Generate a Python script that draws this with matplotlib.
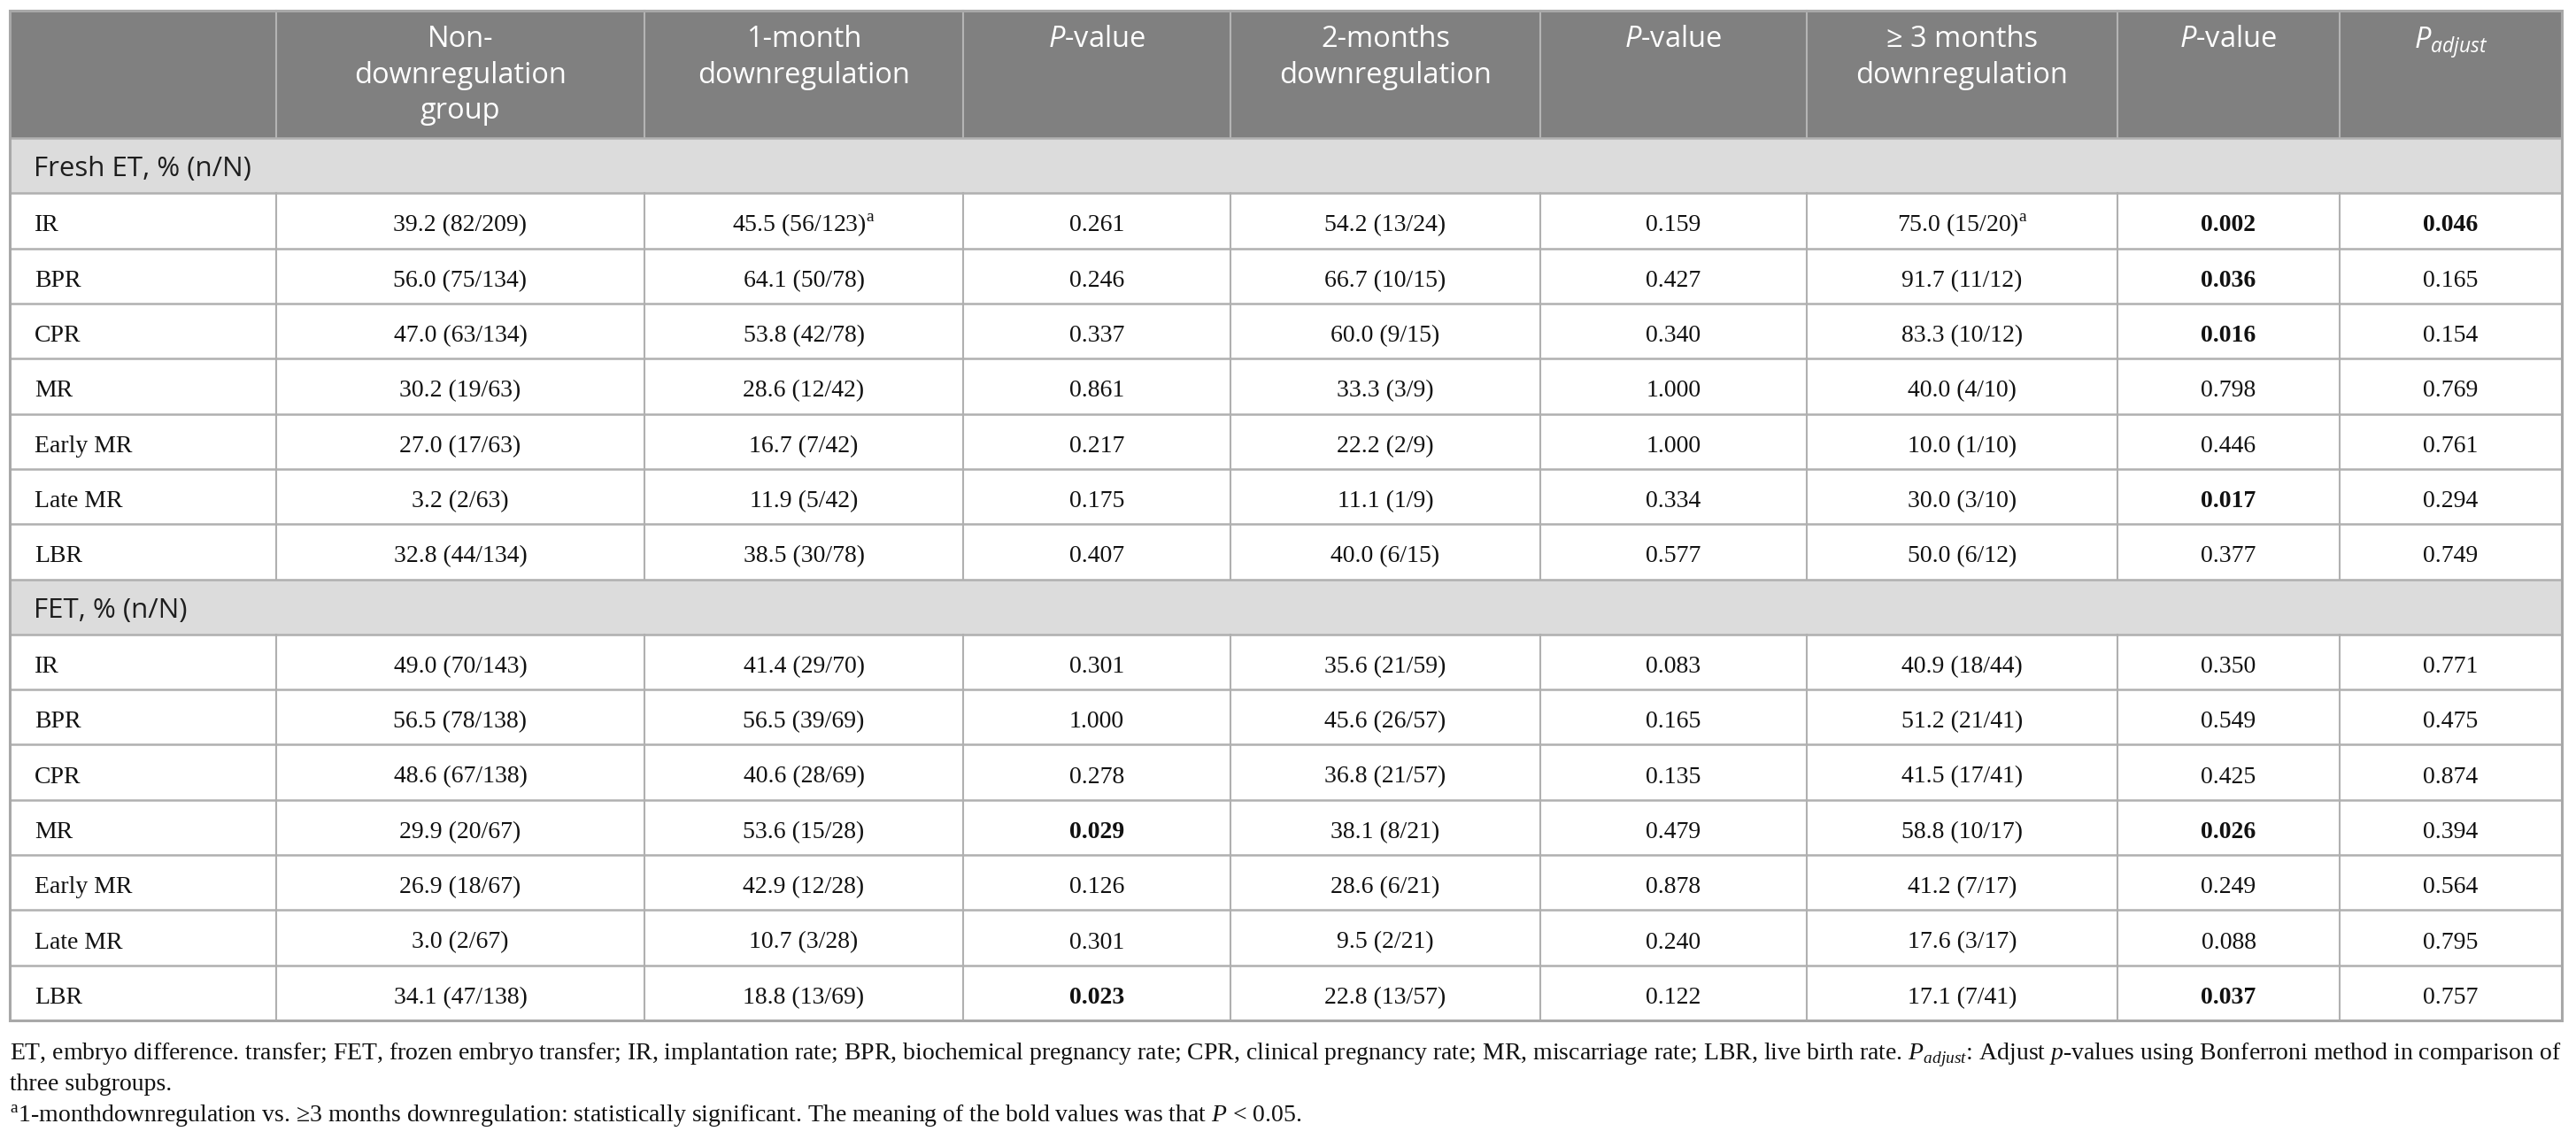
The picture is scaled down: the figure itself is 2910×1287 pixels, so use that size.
import numpy as np
import matplotlib
matplotlib.use('Agg')
import matplotlib.pyplot as plt
from matplotlib.patches import Rectangle

plt.rcParams['mathtext.fontset'] = 'custom'
plt.rcParams['mathtext.rm'] = 'Liberation Serif'
plt.rcParams['mathtext.it'] = 'Open Sans:italic'
plt.rcParams['mathtext.cal'] = 'Liberation Serif:italic'

# ---- table content ----
headers = ['', 'Non-\ndownregulation\ngroup', '1-month\ndownregulation', '$P$-value',
           '2-months\ndownregulation', '$P$-value', '\u2265 3 months\ndownregulation',
           '$P$-value', '$P_{adjust}$']
sections = ['Fresh ET, % (n/N)', 'FET, % (n/N)']
metrics = ['IR', 'BPR', 'CPR', 'MR', 'Early MR', 'Late MR', 'LBR']

fresh_non = ['39.2 (82/209)', '56.0 (75/134)', '47.0 (63/134)', '30.2 (19/63)',
             '27.0 (17/63)', '3.2 (2/63)', '32.8 (44/134)']
fresh_1m = ['45.5 (56/123)$^{\\mathrm{a}}$', '64.1 (50/78)', '53.8 (42/78)', '28.6 (12/42)',
            '16.7 (7/42)', '11.9 (5/42)', '38.5 (30/78)']
fresh_p1 = [0.261, 0.246, 0.337, 0.861, 0.217, 0.175, 0.407]
fresh_2m = ['54.2 (13/24)', '66.7 (10/15)', '60.0 (9/15)', '33.3 (3/9)',
            '22.2 (2/9)', '11.1 (1/9)', '40.0 (6/15)']
fresh_p2 = [0.159, 0.427, 0.340, 1.000, 1.000, 0.334, 0.577]
fresh_3m = ['75.0 (15/20)$^{\\mathrm{a}}$', '91.7 (11/12)', '83.3 (10/12)', '40.0 (4/10)',
            '10.0 (1/10)', '30.0 (3/10)', '50.0 (6/12)']
fresh_p3 = [0.002, 0.036, 0.016, 0.798, 0.446, 0.017, 0.377]
fresh_padj = [0.046, 0.165, 0.154, 0.769, 0.761, 0.294, 0.749]

fet_non = ['49.0 (70/143)', '56.5 (78/138)', '48.6 (67/138)', '29.9 (20/67)',
           '26.9 (18/67)', '3.0 (2/67)', '34.1 (47/138)']
fet_1m = ['41.4 (29/70)', '56.5 (39/69)', '40.6 (28/69)', '53.6 (15/28)',
          '42.9 (12/28)', '10.7 (3/28)', '18.8 (13/69)']
fet_p1 = [0.301, 1.000, 0.278, 0.029, 0.126, 0.301, 0.023]
fet_2m = ['35.6 (21/59)', '45.6 (26/57)', '36.8 (21/57)', '38.1 (8/21)',
          '28.6 (6/21)', '9.5 (2/21)', '22.8 (13/57)']
fet_p2 = [0.083, 0.165, 0.135, 0.479, 0.878, 0.240, 0.122]
fet_3m = ['40.9 (18/44)', '51.2 (21/41)', '41.5 (17/41)', '58.8 (10/17)',
          '41.2 (7/17)', '17.6 (3/17)', '17.1 (7/41)']
fet_p3 = [0.350, 0.549, 0.425, 0.026, 0.249, 0.088, 0.037]
fet_padj = [0.771, 0.475, 0.874, 0.394, 0.564, 0.795, 0.757]

footnotes = [
    'ET, embryo difference. transfer; FET, frozen embryo transfer; IR, implantation rate; '
    'BPR, biochemical pregnancy rate; CPR, clinical pregnancy rate; MR, miscarriage rate; '
    'LBR, live birth rate. $\\mathcal{P}_{\\mathcal{adjust}}$: Adjust $\\mathcal{p}$-values '
    'using Bonferroni method in comparison of',
    'three subgroups.',
    '$^{\\mathrm{a}}$1-monthdownregulation vs. \u22653 months downregulation: statistically '
    'significant. The meaning of the bold values was that $\\mathcal{P}$ < 0.05.',
]

# ---- layout (pixels) ----
W, H = 2910, 1287
col_x = [11, 312, 728, 1088, 1390, 1740, 2041, 2392, 2643, 2894]
top, head_bot, bottom = 12, 156, 1153
n_rows = 2 * (len(metrics) + 1)
row_h = (bottom - head_bot) / n_rows

head_bg = '#808080'
sect_bg = '#dcdcdc'
grid_c = '#b0b0b0'
body_fs = 20
head_fs = 23.5

fig = plt.figure(figsize=(W / 100, H / 100), dpi=100)
ax = fig.add_axes([0, 0, 1, 1])
ax.set_xlim(0, W)
ax.set_ylim(H, 0)
ax.axis('off')

# header
ax.add_patch(Rectangle((col_x[0], top), col_x[-1] - col_x[0], head_bot - top,
                       color=head_bg, zorder=1))
for i, h in enumerate(headers):
    cx = (col_x[i] + col_x[i + 1]) / 2
    ax.text(cx, top + 16, h, ha='center', va='top', color='white',
            family='Open Sans', fontsize=head_fs, linespacing=1.3, zorder=3)
for x in col_x[1:-1]:
    ax.plot([x, x], [top, head_bot], color='#b4b4b4', lw=1.5, zorder=2)


def fmt_p(v):
    return f'{v:.3f}'


blocks = [
    (sections[0], [fresh_non, fresh_1m, fresh_p1, fresh_2m, fresh_p2, fresh_3m, fresh_p3, fresh_padj]),
    (sections[1], [fet_non, fet_1m, fet_p1, fet_2m, fet_p2, fet_3m, fet_p3, fet_padj]),
]

r = 0
for title, cols in blocks:
    y0 = head_bot + r * row_h
    ax.add_patch(Rectangle((col_x[0], y0), col_x[-1] - col_x[0], row_h,
                           color=sect_bg, zorder=1))
    ax.text(col_x[0] + 27, y0 + row_h / 2 + 12, title, ha='left', va='baseline',
            family='Open Sans', fontsize=head_fs - 1, color='#1e1e1e', zorder=3)
    r += 1
    for k, m in enumerate(metrics):
        y0 = head_bot + r * row_h
        yb = y0 + row_h / 2 + 12
        ax.text(col_x[0] + 28, yb, m, ha='left', va='baseline',
                family='Liberation Serif', fontsize=body_fs, color='#111111', zorder=3)
        for j, col in enumerate(cols):
            v = col[k]
            cx = (col_x[j + 1] + col_x[j + 2]) / 2
            if isinstance(v, float):
                s, w = fmt_p(v), ('bold' if v < 0.05 else 'normal')
            else:
                s, w = v, 'normal'
            ax.text(cx, yb, s, ha='center', va='baseline', family='Liberation Serif',
                    fontsize=body_fs, fontweight=w, color='#111111', zorder=3)
        # vertical cell borders for this row
        for x in col_x[1:-1]:
            ax.plot([x, x], [y0, y0 + row_h], color=grid_c, lw=1.5, zorder=2)
        r += 1

# horizontal lines
for i in range(n_rows + 1):
    y = head_bot + i * row_h
    ax.plot([col_x[0], col_x[-1]], [y, y], color=grid_c, lw=1.8, zorder=2)

# outer border
ax.add_patch(Rectangle((col_x[0], top), col_x[-1] - col_x[0], bottom - top,
                       fill=False, ec='#a8a8a8', lw=2.2, zorder=4))

# footnotes, first line fitted to table width
fn_fs = 18
fn_y = 1197
t = ax.text(col_x[0], fn_y, footnotes[0], ha='left', va='baseline',
            family='Liberation Serif', fontsize=fn_fs, color='#111111')
fig.canvas.draw()
bb = t.get_window_extent()
fn_fs = fn_fs * (col_x[-1] - col_x[0]) / bb.width
t.set_fontsize(fn_fs)
for i, line in enumerate(footnotes[1:]):
    ax.text(col_x[0], fn_y + 35.5 * (i + 1), line, ha='left', va='baseline',
            family='Liberation Serif', fontsize=fn_fs, color='#111111')

fig.savefig('out.png', dpi=100, facecolor='white')
